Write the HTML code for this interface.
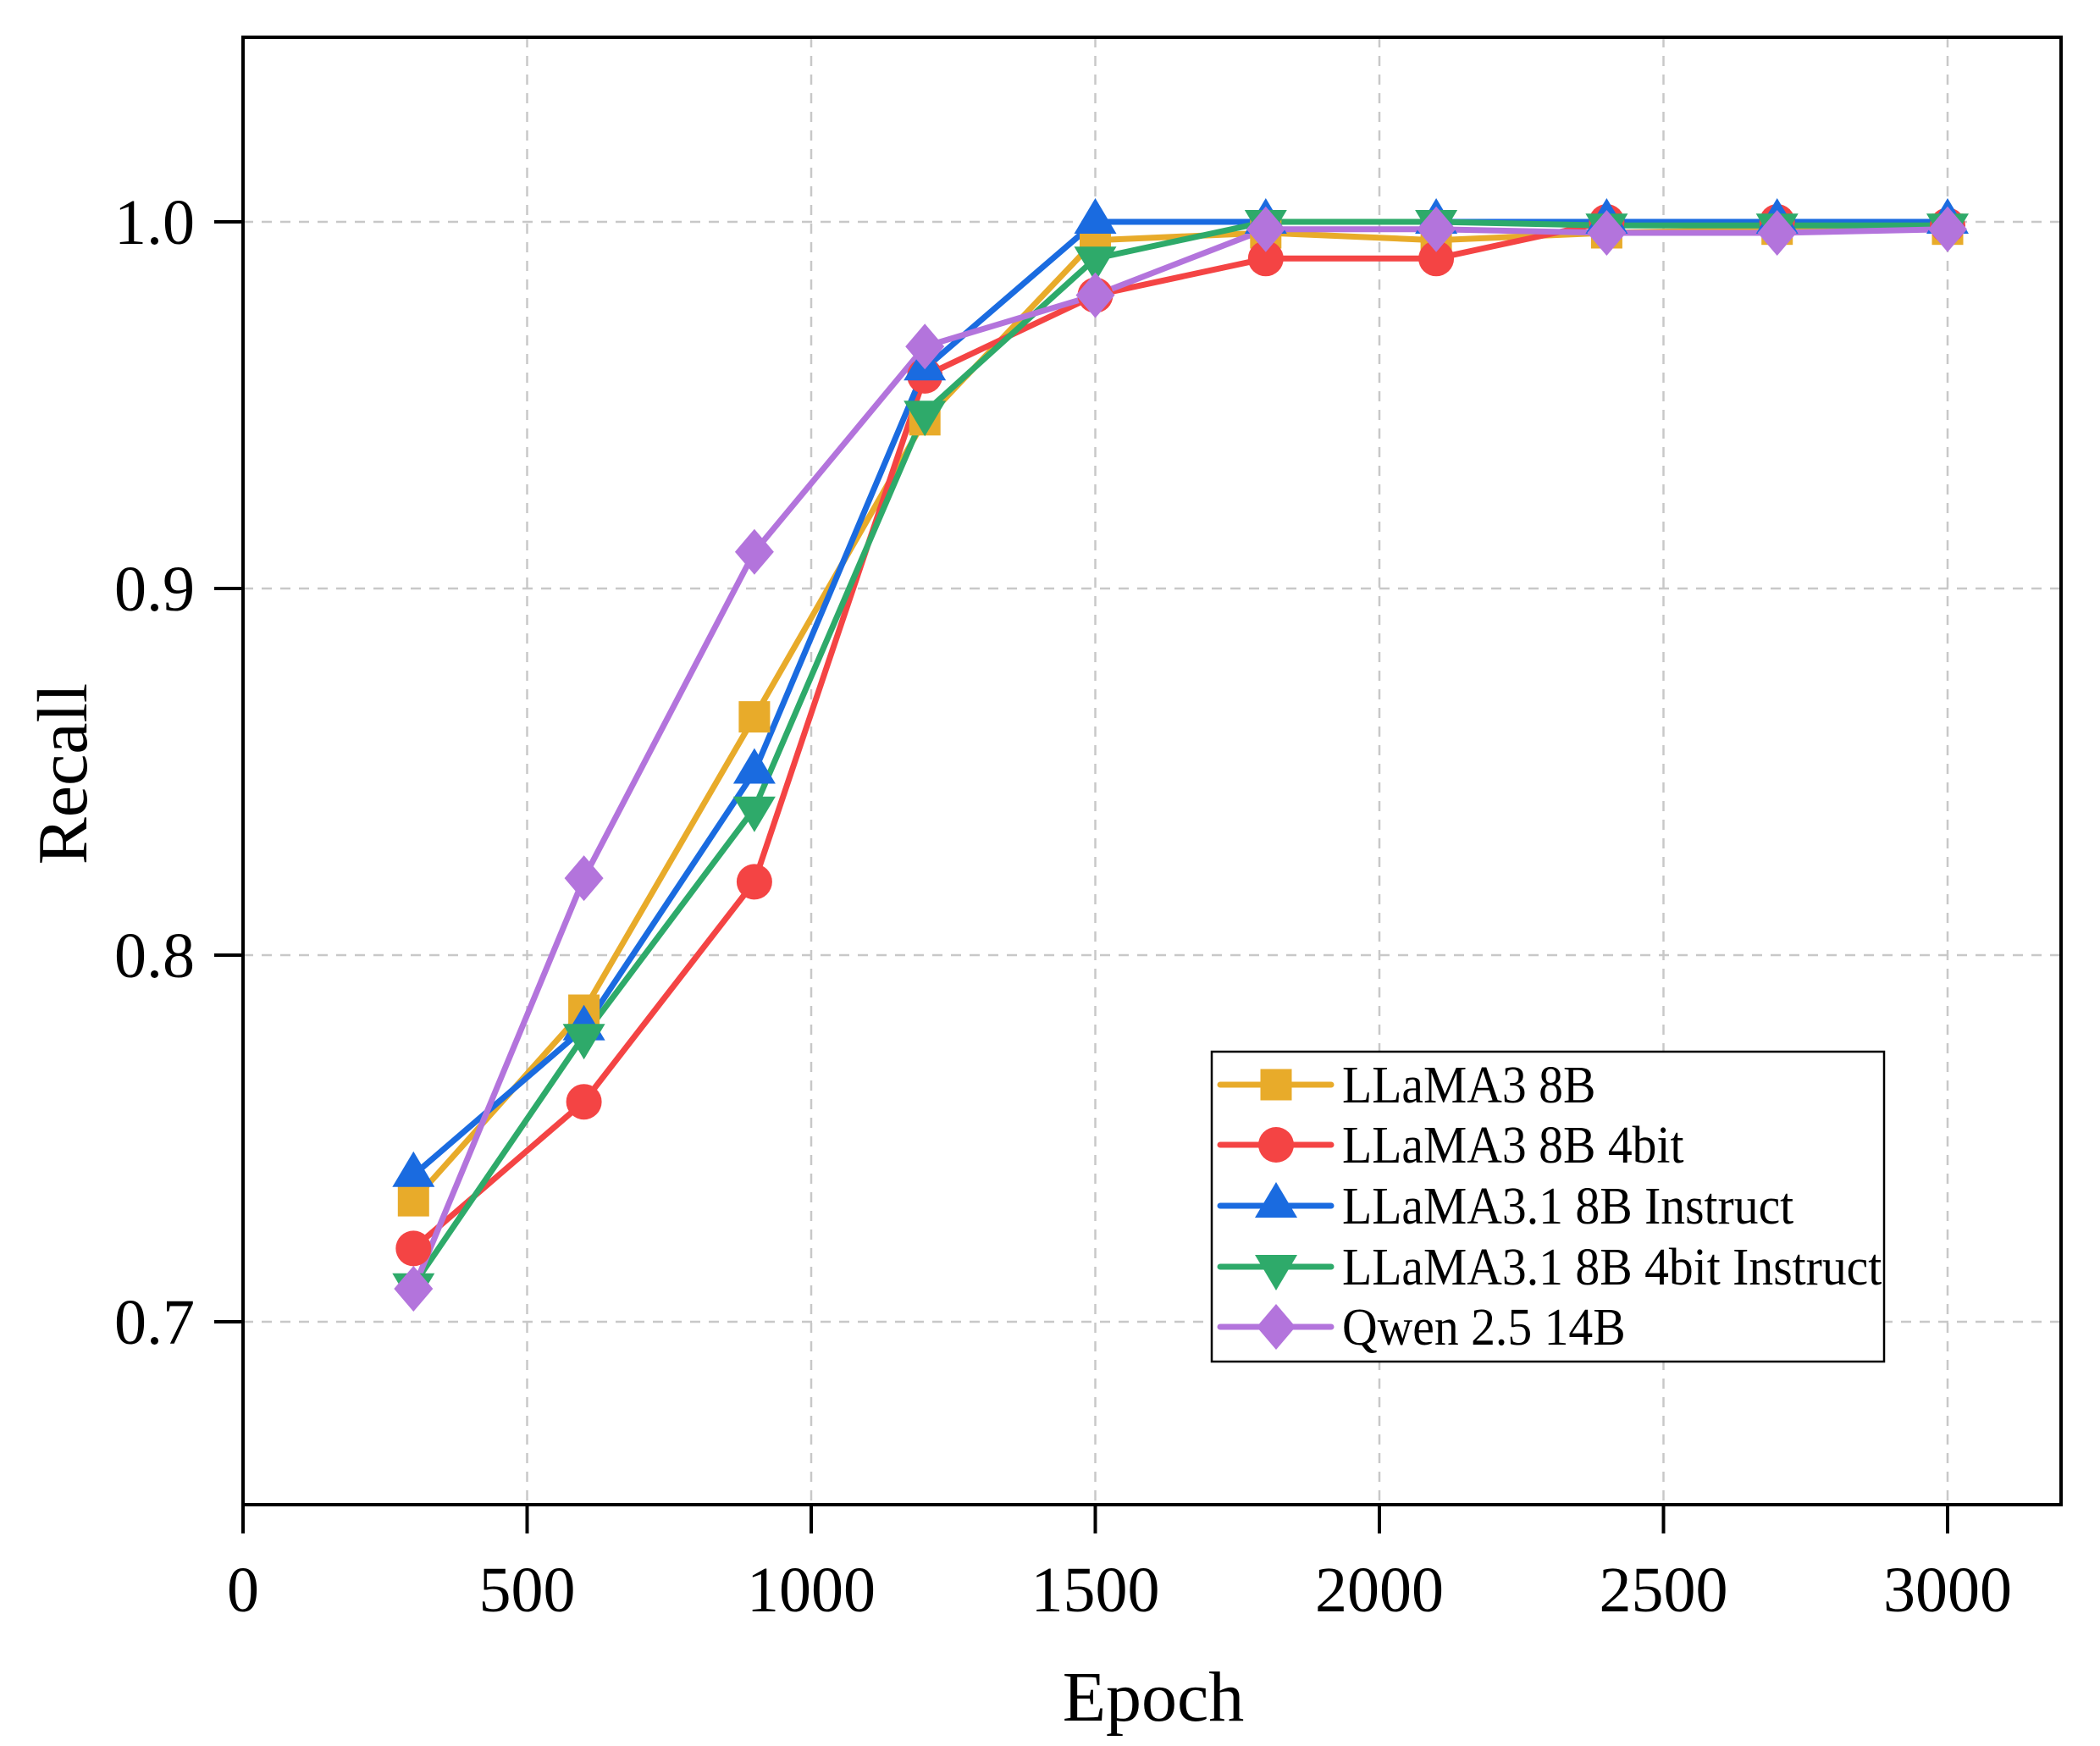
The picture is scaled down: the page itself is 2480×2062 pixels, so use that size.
<!DOCTYPE html>
<html><head><meta charset="utf-8"><style>
html,body{margin:0;padding:0;background:#fff}
svg{display:block}
text{font-family:"Liberation Serif","DejaVu Serif",serif;fill:#000}
</style></head><body>
<svg width="2480" height="2062" viewBox="0 0 2480 2062" xmlns="http://www.w3.org/2000/svg">
<defs>
<rect id="sq" x="-18.5" y="-18.5" width="37" height="37"/>
<circle id="ci" r="21"/>
<polygon id="tu" points="0,-28 25,14 -25,14"/>
<polygon id="td" points="0,28 25,-14 -25,-14"/>
<polygon id="di" points="0,-27 23,0 0,27 -23,0"/>
</defs>
<g stroke="#c8c8c8" stroke-width="2.5" stroke-dasharray="12,10">
<line x1="622.5" y1="44" x2="622.5" y2="1777"/>
<line x1="958" y1="44" x2="958" y2="1777"/>
<line x1="1293.5" y1="44" x2="1293.5" y2="1777"/>
<line x1="1629" y1="44" x2="1629" y2="1777"/>
<line x1="1964.5" y1="44" x2="1964.5" y2="1777"/>
<line x1="2300" y1="44" x2="2300" y2="1777"/>
<line x1="287" y1="262" x2="2434" y2="262"/>
<line x1="287" y1="695" x2="2434" y2="695"/>
<line x1="287" y1="1128" x2="2434" y2="1128"/>
<line x1="287" y1="1561" x2="2434" y2="1561"/>
</g>
<rect x="287" y="44" width="2147" height="1733" fill="none" stroke="#000" stroke-width="4"/>
<g stroke="#000" stroke-width="4">
<line x1="287" y1="1777" x2="287" y2="1811"/>
<line x1="622.5" y1="1777" x2="622.5" y2="1811"/>
<line x1="958" y1="1777" x2="958" y2="1811"/>
<line x1="1293.5" y1="1777" x2="1293.5" y2="1811"/>
<line x1="1629" y1="1777" x2="1629" y2="1811"/>
<line x1="1964.5" y1="1777" x2="1964.5" y2="1811"/>
<line x1="2300" y1="1777" x2="2300" y2="1811"/>
<line x1="253" y1="262" x2="287" y2="262"/>
<line x1="253" y1="695" x2="287" y2="695"/>
<line x1="253" y1="1128" x2="287" y2="1128"/>
<line x1="253" y1="1561" x2="287" y2="1561"/>
</g>
<g font-size="76" text-anchor="middle">
<text x="287" y="1903">0</text>
<text x="622.5" y="1903">500</text>
<text x="958" y="1903">1000</text>
<text x="1293.5" y="1903">1500</text>
<text x="1629" y="1903">2000</text>
<text x="1964.5" y="1903">2500</text>
<text x="2300" y="1903">3000</text>
</g>
<g font-size="76" text-anchor="end">
<text x="230" y="288">1.0</text>
<text x="230" y="721">0.9</text>
<text x="230" y="1154">0.8</text>
<text x="230" y="1587">0.7</text>
</g>
<text x="1362" y="2032" font-size="84" text-anchor="middle">Epoch</text>
<text transform="translate(102,914) rotate(-90)" font-size="84" text-anchor="middle">Recall</text>
<g fill="none" stroke-width="7" stroke-linejoin="round">
<polyline stroke="#E8AB2A" points="488.3,1418.1 689.6,1193 890.9,846.6 1092.2,495.8 1293.5,283.7 1494.8,275 1696.1,283.7 1897.4,275 2098.7,270.7 2300,270.7"/>
<polyline stroke="#F44444" points="488.3,1474.4 689.6,1301.2 890.9,1041.4 1092.2,443.9 1293.5,348.6 1494.8,305.3 1696.1,305.3 1897.4,262 2098.7,262 2300,266.3"/>
<polyline stroke="#1A6BE0" points="488.3,1387.8 689.6,1214.6 890.9,911.5 1092.2,435.2 1293.5,262 1494.8,262 1696.1,262 1897.4,262 2098.7,262 2300,262"/>
<polyline stroke="#2EAA6A" points="488.3,1517.7 689.6,1223.3 890.9,954.8 1092.2,487.2 1293.5,305.3 1494.8,262 1696.1,262 1897.4,266.3 2098.7,266.3 2300,266.3"/>
<polyline stroke="#B374DC" points="488.3,1522 689.6,1037.1 890.9,651.7 1092.2,409.2 1293.5,348.6 1494.8,270.7 1696.1,270.7 1897.4,275 2098.7,275 2300,270.7"/>
</g>
<g fill="#E8AB2A">
<use href="#sq" x="488.3" y="1418.1"/><use href="#sq" x="689.6" y="1193"/><use href="#sq" x="890.9" y="846.6"/><use href="#sq" x="1092.2" y="495.8"/><use href="#sq" x="1293.5" y="283.7"/><use href="#sq" x="1494.8" y="275"/><use href="#sq" x="1696.1" y="283.7"/><use href="#sq" x="1897.4" y="275"/><use href="#sq" x="2098.7" y="270.7"/><use href="#sq" x="2300" y="270.7"/>
</g>
<g fill="#F44444">
<use href="#ci" x="488.3" y="1474.4"/><use href="#ci" x="689.6" y="1301.2"/><use href="#ci" x="890.9" y="1041.4"/><use href="#ci" x="1092.2" y="443.9"/><use href="#ci" x="1293.5" y="348.6"/><use href="#ci" x="1494.8" y="305.3"/><use href="#ci" x="1696.1" y="305.3"/><use href="#ci" x="1897.4" y="262"/><use href="#ci" x="2098.7" y="262"/><use href="#ci" x="2300" y="266.3"/>
</g>
<g fill="#1A6BE0">
<use href="#tu" x="488.3" y="1387.8"/><use href="#tu" x="689.6" y="1214.6"/><use href="#tu" x="890.9" y="911.5"/><use href="#tu" x="1092.2" y="435.2"/><use href="#tu" x="1293.5" y="262"/><use href="#tu" x="1494.8" y="262"/><use href="#tu" x="1696.1" y="262"/><use href="#tu" x="1897.4" y="262"/><use href="#tu" x="2098.7" y="262"/><use href="#tu" x="2300" y="262"/>
</g>
<g fill="#2EAA6A">
<use href="#td" x="488.3" y="1517.7"/><use href="#td" x="689.6" y="1223.3"/><use href="#td" x="890.9" y="954.8"/><use href="#td" x="1092.2" y="487.2"/><use href="#td" x="1293.5" y="305.3"/><use href="#td" x="1494.8" y="262"/><use href="#td" x="1696.1" y="262"/><use href="#td" x="1897.4" y="266.3"/><use href="#td" x="2098.7" y="266.3"/><use href="#td" x="2300" y="266.3"/>
</g>
<g fill="#B374DC">
<use href="#di" x="488.3" y="1522"/><use href="#di" x="689.6" y="1037.1"/><use href="#di" x="890.9" y="651.7"/><use href="#di" x="1092.2" y="409.2"/><use href="#di" x="1293.5" y="348.6"/><use href="#di" x="1494.8" y="270.7"/><use href="#di" x="1696.1" y="270.7"/><use href="#di" x="1897.4" y="275"/><use href="#di" x="2098.7" y="275"/><use href="#di" x="2300" y="270.7"/>
</g>
<rect x="1431" y="1242" width="794" height="366" fill="#fff" stroke="#000" stroke-width="2.5"/>
<g stroke-width="7" stroke-linecap="round">
<line x1="1441" y1="1281" x2="1572" y2="1281" stroke="#E8AB2A"/>
<line x1="1441" y1="1352" x2="1572" y2="1352" stroke="#F44444"/>
<line x1="1441" y1="1424" x2="1572" y2="1424" stroke="#1A6BE0"/>
<line x1="1441" y1="1496" x2="1572" y2="1496" stroke="#2EAA6A"/>
<line x1="1441" y1="1567" x2="1572" y2="1567" stroke="#B374DC"/>
</g>
<use href="#sq" x="1507" y="1281" fill="#E8AB2A"/>
<use href="#ci" x="1507" y="1352" fill="#F44444"/>
<use href="#tu" x="1507" y="1424" fill="#1A6BE0"/>
<use href="#td" x="1507" y="1496" fill="#2EAA6A"/>
<use href="#di" x="1507" y="1567" fill="#B374DC"/>
<g transform="translate(1585,0) scale(0.93,1)" font-size="62">
<text x="0" y="1302">LLaMA3 8B</text>
<text x="0" y="1373">LLaMA3 8B 4bit</text>
<text x="0" y="1445">LLaMA3.1 8B Instruct</text>
<text x="0" y="1517">LLaMA3.1 8B 4bit Instruct</text>
<text x="0" y="1588">Qwen 2.5 14B</text>
</g>
</svg>
</body></html>
